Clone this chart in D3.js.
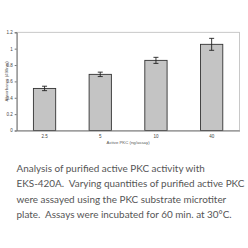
<!DOCTYPE html>
<html><head><meta charset="utf-8">
<script src="https://cdn.jsdelivr.net/npm/d3@7"></script>
<style>body{margin:0;background:#fff}svg{display:block}text.cap{white-space:pre}</style>
</head><body>
<script>
const categories = ["2.5","5","10","40"];
const values = [0.514, 0.686, 0.857, 1.053];
const errors = [0.027, 0.027, 0.037, 0.073];
const yTicks = [0, 0.2, 0.4, 0.6, 0.8, 1, 1.2];
const yTickLabels = ["0","0.2","0.4","0.6","0.8","1","1.2"];
const captionLines = [
  "Analysis of purified active PKC activity with",
  "EKS-420A.  Varying quantities of purified active PKC",
  "were assayed using the PKC substrate microtiter",
  "plate.  Assays were incubated for 60 min. at 30\u00B0C."
];

(function(){
const W = 248, H = 248;
const svg = d3.select("body").append("svg").attr("width", W).attr("height", H);
const pL = 16.7, pR = 239.5, pT = 32.3, pB = 130.5;
const axisFont = "Liberation Sans, Arial, sans-serif";

const x = d3.scaleBand().domain(categories).range([pL, pR]).paddingInner(0.6).paddingOuter(0.3);
const y = d3.scaleLinear().domain([0, 1.2]).range([pB, pT]);

svg.append("rect").attr("x", pL).attr("y", pT).attr("width", pR-pL).attr("height", pB-pT)
  .attr("fill", "none").attr("stroke", "#bbb").attr("stroke-width", 0.8);

svg.selectAll("rect.bar").data(values).enter().append("rect").attr("class","bar")
  .attr("x", (d,i)=>x(categories[i])).attr("width", x.bandwidth())
  .attr("y", d=>y(d)).attr("height", d=>pB - y(d))
  .attr("fill", "#c4c4c4").attr("stroke", "#333").attr("stroke-width", 0.9);

const eg = svg.append("g").attr("stroke", "#222").attr("stroke-width", 0.9);
values.forEach((v,i)=>{
  const cx = x(categories[i]) + x.bandwidth()/2;
  eg.append("line").attr("x1",cx).attr("x2",cx).attr("y1",y(v+errors[i])).attr("y2",y(v-errors[i]));
  eg.append("line").attr("x1",cx-2.5).attr("x2",cx+2.5).attr("y1",y(v+errors[i])).attr("y2",y(v+errors[i]));
  eg.append("line").attr("x1",cx-2.5).attr("x2",cx+2.5).attr("y1",y(v-errors[i])).attr("y2",y(v-errors[i]));
});

const yAxis = d3.axisLeft(y).tickValues(yTicks).tickFormat((d,i)=>yTickLabels[i]).tickSize(2).tickPadding(2);
const ga = svg.append("g").attr("transform", `translate(${pL},0)`).call(yAxis);
ga.attr("font-family", axisFont).attr("font-size", 4.5);
ga.select(".domain").attr("stroke","#777");
ga.selectAll(".tick line").attr("stroke","#777");
ga.selectAll("text").attr("fill","#444");

const xAxis = d3.axisBottom(x).tickSize(0).tickPadding(4);
const gx = svg.append("g").attr("transform", `translate(0,${pB})`).call(xAxis);
gx.attr("font-family", axisFont).attr("font-size", 4.5);
gx.select(".domain").attr("stroke","#777");
gx.selectAll("text").attr("fill","#444");

svg.append("text").attr("x", (pL+pR)/2).attr("y", 144).attr("text-anchor","middle")
  .attr("font-family",axisFont).attr("font-size",4.3).attr("fill","#555")
  .text("Active PKC (ng/assay)");
svg.append("text").attr("transform", `translate(8,${(pT+pB)/2}) rotate(-90)`).attr("text-anchor","middle")
  .attr("font-family",axisFont).attr("font-size",4.3).attr("fill","#555")
  .text("Absorbance (490nm)");

const caps = svg.selectAll("text.cap").data(captionLines).enter().append("text").attr("class","cap")
  .attr("x", 16.5).attr("y", (d,i)=>172 + i*15.4)
  .attr("font-family","Lato, sans-serif").attr("font-size", 10).attr("fill","#555")
  .text(d=>d);
// fit the longest line to the reference width (~228px)
const w = caps.nodes()[1].getComputedTextLength();
const fs = 10 * 228 / w;
caps.attr("font-size", fs);
})();
</script>
</body></html>
